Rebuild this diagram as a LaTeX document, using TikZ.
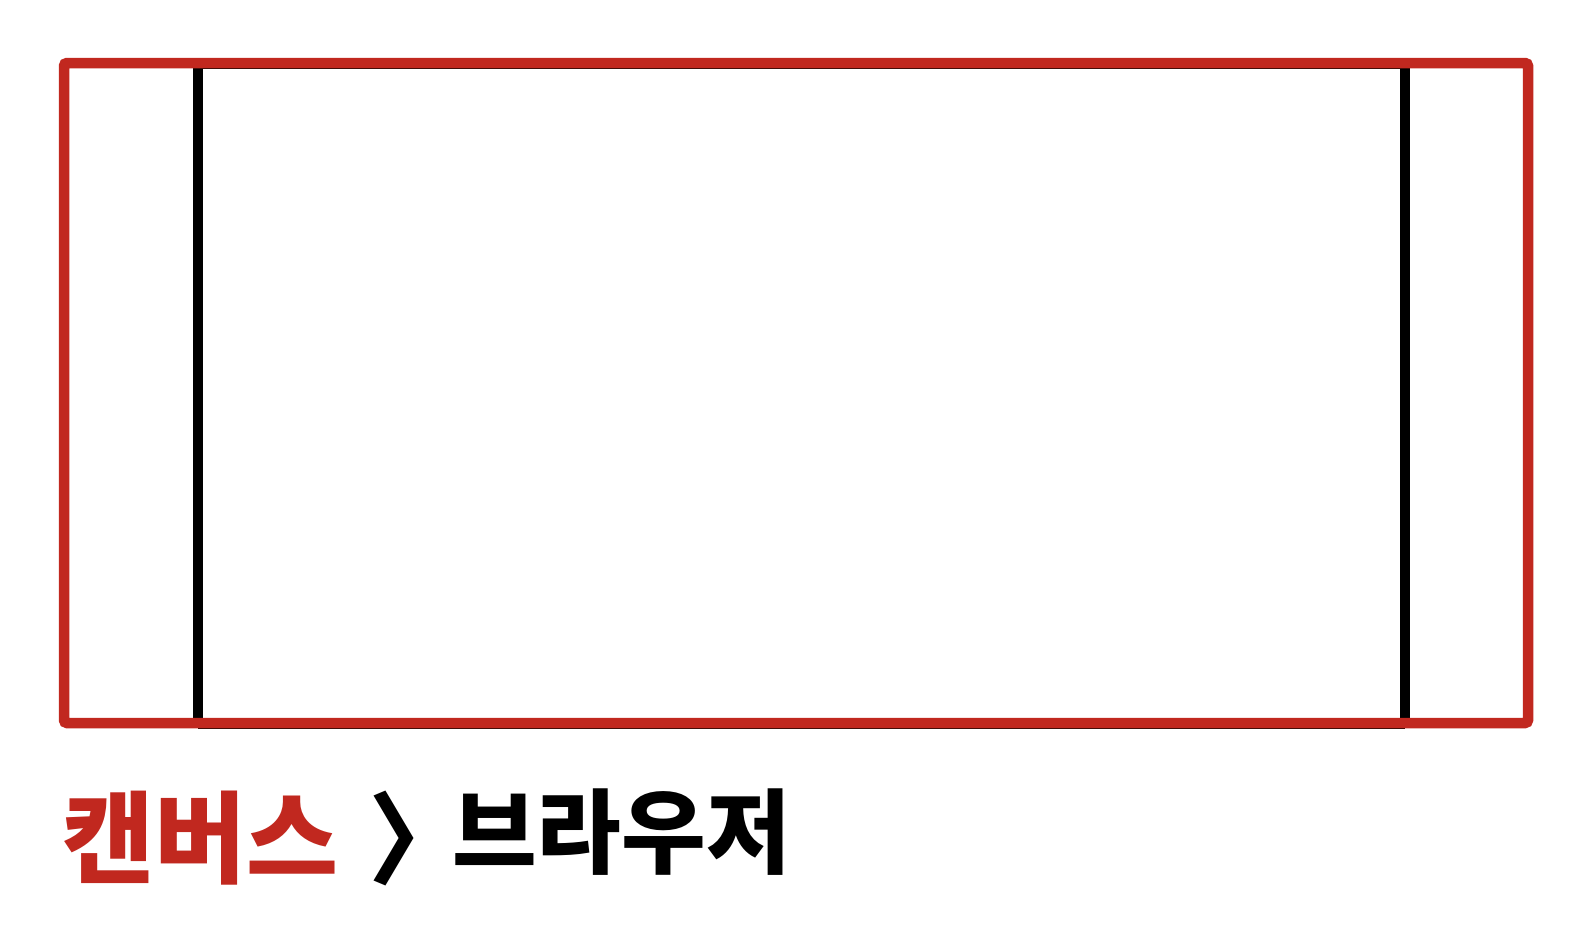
\documentclass[tikz,border=0pt]{standalone}
\usepackage{fontspec}
\newfontfamily\kr{Noto Sans CJK KR Black}
\definecolor{redline}{HTML}{C1281F}
\begin{document}
\begin{tikzpicture}[x=1pt,y=-1pt,
  redbox/.style={draw=redline,line width=10.5pt,rounded corners=3pt},
  blackedge/.style={draw=black,line width=10pt},
  thinedge/.style={draw=black,line width=2pt},
  label/.style={inner sep=0pt,font=\kr\fontsize{100}{100}\selectfont},
  smalllabel/.style={inner sep=0pt,font=\kr\fontsize{92}{92}\selectfont}]
\useasboundingbox (0,0) rectangle (1589,940);
% browser (black) frame
\coordinate (btl) at (198,68);
\coordinate (btr) at (1405,68);
\coordinate (bbl) at (198,728);
\coordinate (bbr) at (1405,728);
\draw[thinedge] (btl) -- (btr);
\draw[thinedge] (bbl) -- (bbr);
\draw[blackedge] (198,66) -- (198,724);
\draw[blackedge] (1405,66) -- (1405,724);
% canvas (red) frame
\draw[redbox] (64,63) rectangle (1528,723);
% labels
\node[label,text=redline,anchor=west] (canvas) at (62,838) {캔버스};
\node[label,text=black,anchor=west] (gt) at (368,838) {〉};
\node[smalllabel,text=black,anchor=west] (browser) at (452,832) {브라우저};
\end{tikzpicture}
\end{document}
